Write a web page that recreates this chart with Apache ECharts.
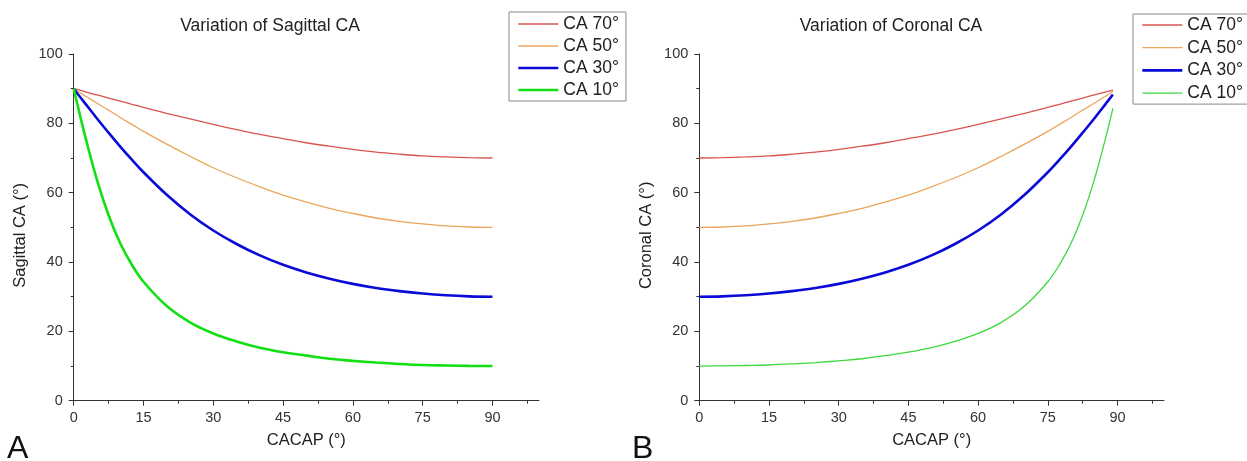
<!DOCTYPE html>
<html>
<head>
<meta charset="utf-8">
<script src="https://cdn.jsdelivr.net/npm/echarts@6/dist/echarts.min.js"></script>
<style>
html,body{margin:0;padding:0;background:#fff;}
#c{width:1247px;height:461px;}
</style>
</head>
<body>
<div id="c"></div>
<script>
// ---- data ----
const seriesNames = ['CA 70°', 'CA 50°', 'CA 30°', 'CA 10°'];
const xTicks = [0, 15, 30, 45, 60, 75, 90];
const xMinorTicks = [7.5, 22.5, 37.5, 52.5, 67.5, 82.5, 97.5];

// Panel A: Sagittal CA vs CACAP
const sagX   = [0, 1.25, 2.5, 5, 7.5, 10, 12.5, 15, 20, 25, 30, 35, 40, 45, 50, 55, 60, 65, 70, 75, 80, 85, 90];
const sag70  = [90, 89.6, 89.1, 88.2, 87.3, 86.4, 85.5, 84.6, 82.9, 81.3, 79.7, 78.2, 76.8, 75.6, 74.4, 73.4, 72.5, 71.7, 71.1, 70.6, 70.3, 70.1, 70];
const sag50  = [90, 88.9, 87.9, 85.8, 83.8, 81.7, 79.7, 77.7, 74.0, 70.5, 67.2, 64.3, 61.7, 59.3, 57.3, 55.5, 54.0, 52.7, 51.7, 51.0, 50.4, 50.1, 50];
const sag30  = [90, 87.8, 85.7, 81.4, 77.3, 73.3, 69.5, 65.9, 59.4, 53.8, 49.1, 45.2, 41.9, 39.2, 37.0, 35.2, 33.7, 32.5, 31.6, 30.9, 30.4, 30.1, 30];
const sag10  = [90, 82.9, 76.1, 63.7, 53.5, 45.4, 39.2, 34.3, 27.3, 22.6, 19.4, 17.1, 15.3, 14.0, 13.0, 12.1, 11.5, 11.0, 10.6, 10.3, 10.15, 10.05, 10];

// Panel B: Coronal CA vs CACAP
const corX   = [0, 5, 10, 15, 20, 25, 30, 35, 40, 45, 50, 55, 60, 65, 70, 75, 77.5, 80, 82.5, 85, 87.5, 89];
const cor70  = [70, 70.1, 70.3, 70.6, 71.1, 71.7, 72.5, 73.4, 74.4, 75.6, 76.8, 78.2, 79.7, 81.3, 82.9, 84.6, 85.5, 86.4, 87.3, 88.2, 89.1, 89.6];
const cor50  = [50, 50.1, 50.4, 51.0, 51.7, 52.7, 54.0, 55.5, 57.3, 59.3, 61.7, 64.3, 67.2, 70.5, 74.0, 77.7, 79.7, 81.7, 83.8, 85.8, 87.9, 89.2];
const cor30  = [30, 30.1, 30.4, 30.9, 31.6, 32.5, 33.7, 35.2, 37.0, 39.2, 41.9, 45.2, 49.1, 53.8, 59.4, 65.9, 69.5, 73.3, 77.3, 81.4, 85.7, 88.3];
const cor10  = [10, 10.05, 10.15, 10.3, 10.6, 11.0, 11.5, 12.1, 13.0, 14.0, 15.3, 17.1, 19.4, 22.6, 27.3, 34.3, 39.2, 45.4, 53.5, 63.7, 76.1, 84.3];

// ---- styling ----
const FONT = 'Liberation Sans, Arial, sans-serif';
const colors = ['#d9534f', '#eca55a', '#0a0ad8', '#12e012'];
const widthsA = [1.3, 1.3, 2.6, 2.6];
const widthsB = [1.3, 1.3, 2.6, 1.3];
const colorsB = ['#d9534f', '#eca55a', '#0a0ad8', '#3ed83e'];
const AX = '#333';
const CLEAR = 'rgba(0,0,0,0)';

function zip(xs, ys) { return xs.map((x, i) => [x, ys[i]]); }

function xAxes(gi) {
  return [{
    type: 'value', gridIndex: gi, min: 0, max: 100, interval: 15,
    name: 'CACAP (°)', nameLocation: 'middle', nameGap: 31,
    nameTextStyle: {fontFamily: FONT, fontSize: 16.5, color: '#222'},
    axisLine: {show: true, onZero: false, lineStyle: {color: AX, width: 1}},
    axisTick: {show: true, length: 5, customValues: xTicks, lineStyle: {color: AX}},
    axisLabel: {customValues: xTicks, margin: 10, fontFamily: FONT, fontSize: 14.5, color: '#333'},
    splitLine: {show: false}
  }, {
    type: 'value', gridIndex: gi, min: 0, max: 100, interval: 7.5, position: 'bottom',
    axisLine: {show: false},
    axisTick: {show: true, length: 3, customValues: xMinorTicks, lineStyle: {color: AX}},
    axisLabel: {show: false},
    splitLine: {show: false}
  }];
}
function yAxis(gi, name) {
  return {
    type: 'value', gridIndex: gi, min: 0, max: 100, interval: 20,
    name: name, nameLocation: 'middle', nameGap: 44.5, nameRotate: 90,
    nameTextStyle: {fontFamily: FONT, fontSize: 16.5, color: '#222', padding: [0, 16, 0, 0]},
    axisLine: {show: true, onZero: false, lineStyle: {color: AX, width: 1}},
    axisTick: {show: true, length: 5, lineStyle: {color: AX}},
    minorTick: {show: true, splitNumber: 2, length: 3, lineStyle: {color: AX}},
    axisLabel: {margin: 11, fontFamily: FONT, fontSize: 14.5, color: '#333'},
    splitLine: {show: false}
  };
}

const sagData = [sag70, sag50, sag30, sag10];
const corData = [cor70, cor50, cor30, cor10];
const series = [];
seriesNames.forEach((n, i) => {
  series.push({
    name: n, type: 'line', xAxisIndex: 0, yAxisIndex: 0, data: zip(sagX, sagData[i]),
    symbol: 'none', showSymbol: false, smooth: 0.4,
    lineStyle: {color: colors[i], width: widthsA[i]}, itemStyle: {color: colors[i]}
  });
});
seriesNames.forEach((n, i) => {
  series.push({
    name: n, type: 'line', xAxisIndex: 2, yAxisIndex: 1, data: zip(corX, corData[i]),
    symbol: 'none', showSymbol: false, smooth: 0.4,
    lineStyle: {color: colorsB[i], width: widthsB[i]}, itemStyle: {color: colorsB[i]}
  });
});

function legend(left, top, pad, gap, widths, cols) {
  return {
    orient: 'vertical', left: left, top: top, padding: pad,
    borderColor: '#8a8a8a', borderWidth: 1, backgroundColor: '#fff',
    itemWidth: 40, itemHeight: 12, itemGap: gap, selectedMode: false,
    textStyle: {fontFamily: FONT, fontSize: 17.5, lineHeight: 18, color: '#222'},
    data: seriesNames.map((n, i) => ({
      name: n,
      itemStyle: {color: CLEAR, borderColor: CLEAR, borderWidth: 0, opacity: 0},
      lineStyle: {color: cols[i], width: widths[i]}
    }))
  };
}

const option = {
  animation: false,
  backgroundColor: '#fff',
  title: [
    {text: 'Variation of Sagittal CA', left: 270, top: 17, textAlign: 'center', padding: 0,
     textStyle: {fontFamily: FONT, fontSize: 17.5, fontWeight: 'normal', color: '#222'}},
    {text: 'Variation of Coronal CA', left: 891, top: 17, textAlign: 'center', padding: 0,
     textStyle: {fontFamily: FONT, fontSize: 17.5, fontWeight: 'normal', color: '#222'}}
  ],
  legend: [
    legend(509, 12, [3, 7, 2, 8], 4, widthsA, colors),
    legend(1133, 14, [2, 16, 2, 8], 4.7, widthsB, colorsB)
  ],
  grid: [
    {left: 73.7, top: 54, width: 465.3, height: 346.7, containLabel: false},
    {left: 699.3, top: 54, width: 464.7, height: 346.7, containLabel: false}
  ],
  xAxis: [...xAxes(0), ...xAxes(1)],
  yAxis: [yAxis(0, 'Sagittal CA (°)'), yAxis(1, 'Coronal CA (°)')],
  series: series,
  graphic: [
    {type: 'text', left: 7, top: 433, style: {text: 'A', font: '32px ' + FONT, fill: '#111'}},
    {type: 'text', left: 632, top: 433, style: {text: 'B', font: '32px ' + FONT, fill: '#111'}}
  ]
};

const chart = echarts.init(document.getElementById('c'), null, {renderer: 'canvas'});
chart.setOption(option);
</script>
</body>
</html>
